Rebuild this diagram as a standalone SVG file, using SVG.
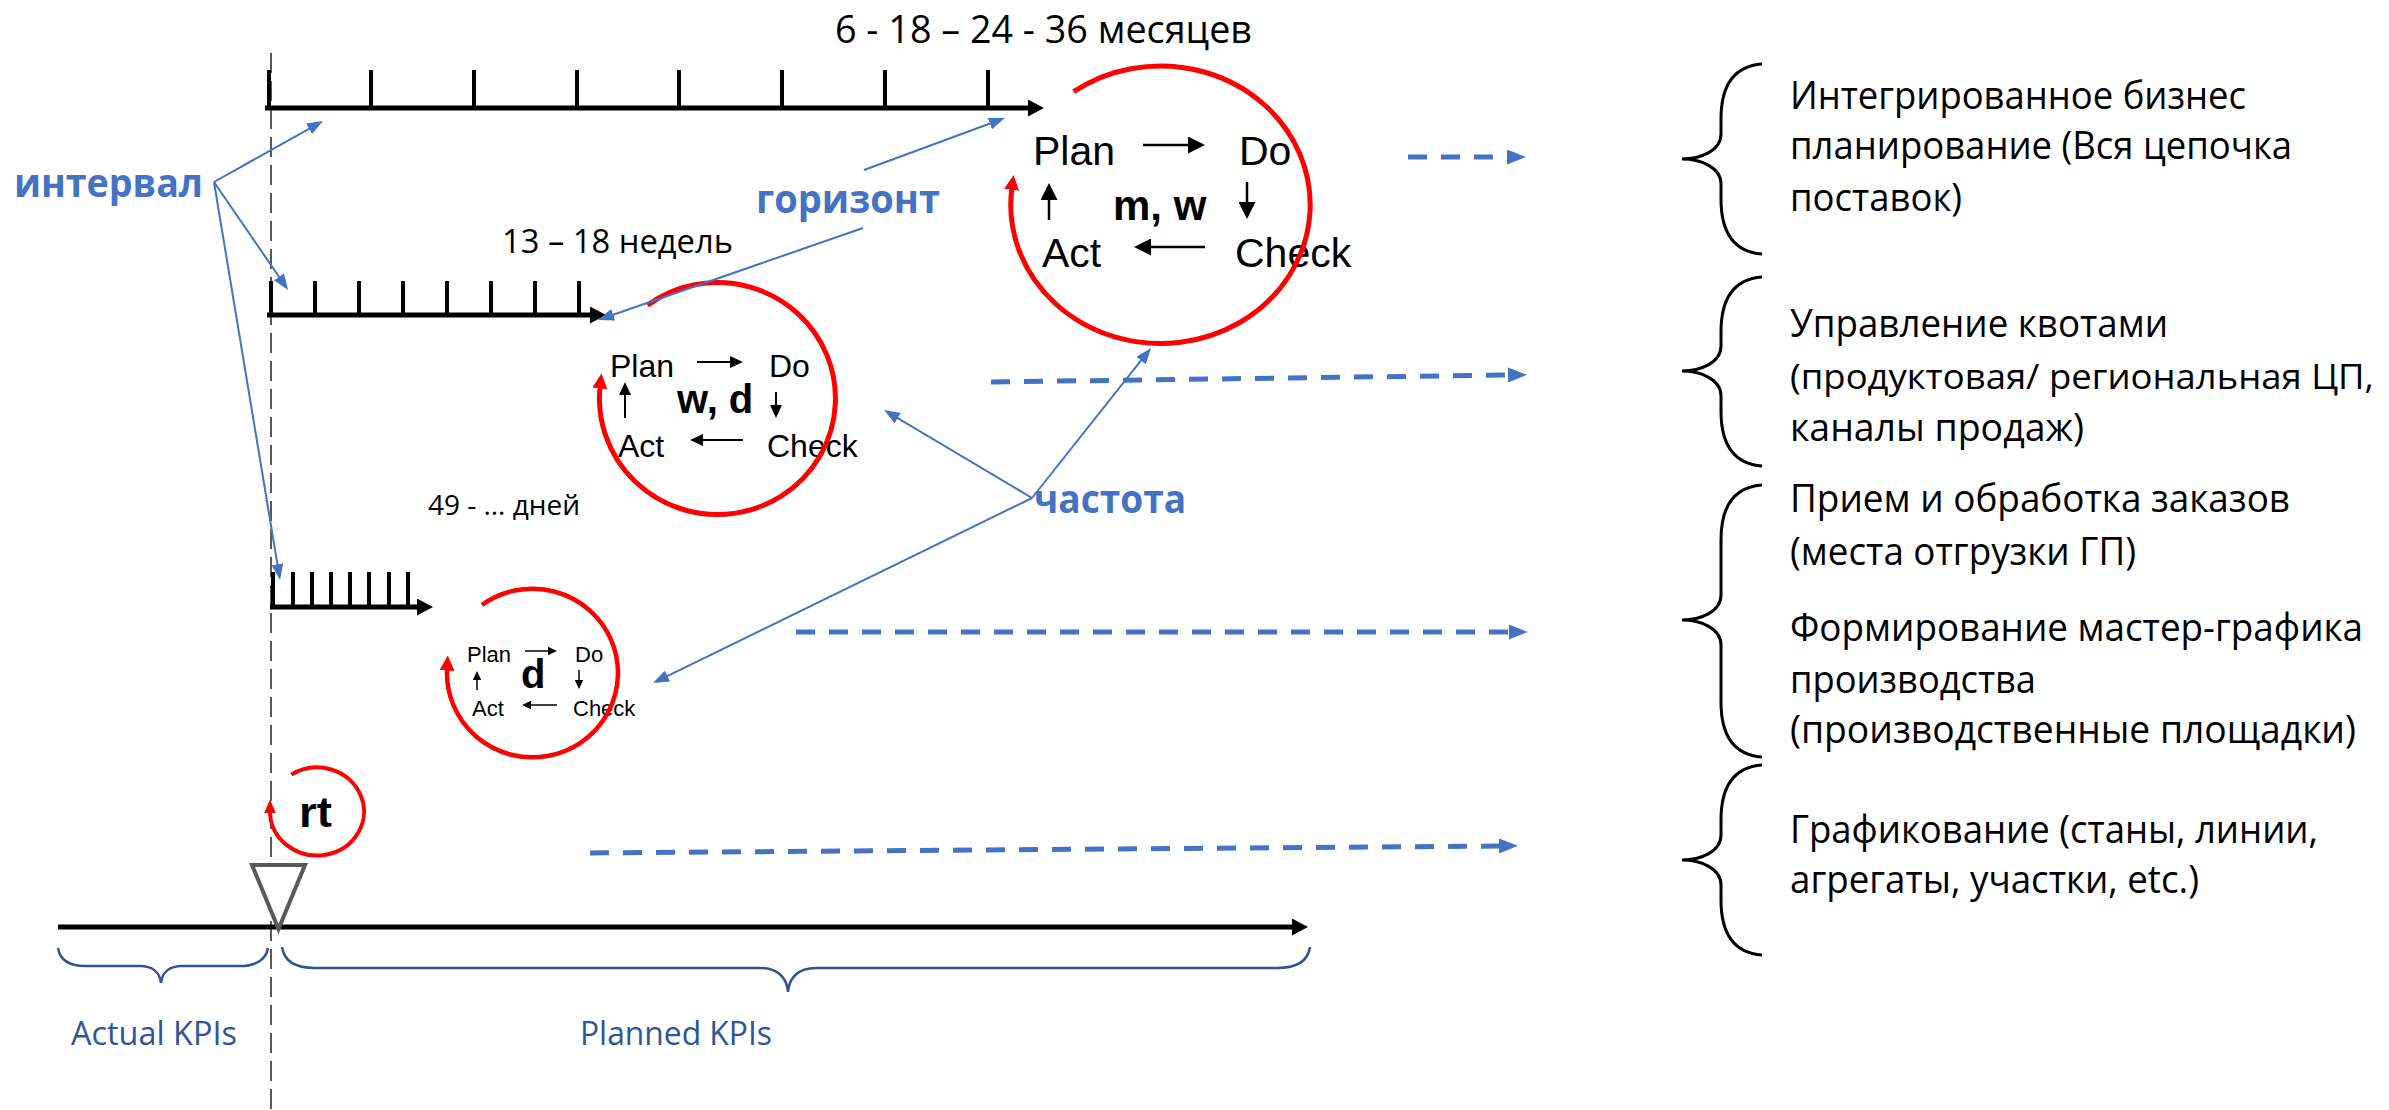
<svg xmlns="http://www.w3.org/2000/svg" width="2389" height="1110" viewBox="0 0 2389 1110">
  <defs>
    <style>
      .cal { font-family: "Open Sans", "Noto Sans", sans-serif; }
      .ari { font-family: "Liberation Sans", Arial, sans-serif; fill: #000; }
      .side { font-size: 38.5px; fill: #000; }
      .lbl { font-weight: bold; font-size: 40px; fill: #4472C4; }
      .kpi { font-size: 33px; fill: #2F5597; }
      .axis { stroke: #000; stroke-width: 5; fill: none; marker-end: url(#ah-axis); }
      .tick { stroke: #000; stroke-width: 4; }
      .cycle { fill: none; stroke: #FF0000; }
      .lead { stroke: #4472C4; stroke-width: 2; fill: none; marker-end: url(#ah-lead); }
      .flow { stroke: #4472C4; stroke-width: 5; stroke-dasharray: 19 14; fill: none; marker-end: url(#ah-flow); }
      .brace { fill: none; stroke: #000; stroke-width: 3; }
      .kbrace { fill: none; stroke: #2F5597; stroke-width: 2.5; }
      .pa-lg { stroke: #000; stroke-width: 2.5; marker-end: url(#pa-lg); }
      .pa-md { stroke: #000; stroke-width: 2; marker-end: url(#pa-md); }
      .pa-sm { stroke: #000; stroke-width: 1.5; marker-end: url(#pa-sm); }
    </style>
    <marker id="ah-axis" markerUnits="userSpaceOnUse" markerWidth="16" markerHeight="17" refX="4" refY="8.5" orient="auto">
      <path d="M0,0 L16,8.5 L0,17 z" fill="#000"/>
    </marker>
    <marker id="ah-lead" markerUnits="userSpaceOnUse" markerWidth="16" markerHeight="12" refX="3" refY="6" orient="auto">
      <path d="M0,0 L16,6 L0,12 z" fill="#4472C4"/>
    </marker>
    <marker id="ah-flow" markerUnits="userSpaceOnUse" markerWidth="19" markerHeight="15" refX="1" refY="7.5" orient="auto">
      <path d="M0,0 L19,7.5 L0,15 z" fill="#4472C4"/>
    </marker>
    <marker id="ah-cycle" markerUnits="userSpaceOnUse" markerWidth="15" markerHeight="15" refX="2" refY="7.5" orient="auto">
      <path d="M0,0 L15,7.5 L0,15 z" fill="#FF0000"/>
    </marker>
    <marker id="ah-cycle-sm" markerUnits="userSpaceOnUse" markerWidth="14" markerHeight="12" refX="2" refY="6" orient="auto">
      <path d="M0,0 L14,6 L0,12 z" fill="#FF0000"/>
    </marker>
    <marker id="pa-lg" markerUnits="userSpaceOnUse" markerWidth="17" markerHeight="17" refX="1" refY="8.5" orient="auto">
      <path d="M0,0 L17,8.5 L0,17 z" fill="#000"/>
    </marker>
    <marker id="pa-md" markerUnits="userSpaceOnUse" markerWidth="13" markerHeight="12" refX="1" refY="6" orient="auto">
      <path d="M0,0 L13,6 L0,12 z" fill="#000"/>
    </marker>
    <marker id="pa-sm" markerUnits="userSpaceOnUse" markerWidth="9" markerHeight="9" refX="1" refY="4.25" orient="auto">
      <path d="M0,0 L9,4.25 L0,8.5 z" fill="#000"/>
    </marker>
  </defs>

  <rect width="2389" height="1110" fill="#fff"/>

  <!-- "now" reference line -->
  <g id="now-line">
    <line x1="271" y1="53" x2="271" y2="1110" stroke="#595959" stroke-width="2" stroke-dasharray="20 8"/>
  </g>

  <!-- months horizon -->
  <g id="timeline-months">
    <line class="axis" x1="265" y1="108" x2="1032" y2="108"/>
    <g class="tick">
      <line x1="269" y1="70" x2="269" y2="108"/>
      <line x1="371" y1="70" x2="371" y2="108"/>
      <line x1="474" y1="70" x2="474" y2="108"/>
      <line x1="577" y1="70" x2="577" y2="108"/>
      <line x1="679" y1="70" x2="679" y2="108"/>
      <line x1="782" y1="70" x2="782" y2="108"/>
      <line x1="885" y1="70" x2="885" y2="108"/>
      <line x1="988" y1="70" x2="988" y2="108"/>
    </g>
    <text class="cal" x="835" y="43" font-size="38.5" textLength="417" lengthAdjust="spacingAndGlyphs">6 - 18 – 24 - 36 месяцев</text>
  </g>

  <!-- weeks horizon -->
  <g id="timeline-weeks">
    <line class="axis" x1="267" y1="315" x2="594" y2="315"/>
    <g class="tick">
      <line x1="271" y1="281" x2="271" y2="315"/>
      <line x1="315" y1="281" x2="315" y2="315"/>
      <line x1="359" y1="281" x2="359" y2="315"/>
      <line x1="403" y1="281" x2="403" y2="315"/>
      <line x1="447" y1="281" x2="447" y2="315"/>
      <line x1="491" y1="281" x2="491" y2="315"/>
      <line x1="535" y1="281" x2="535" y2="315"/>
      <line x1="579" y1="281" x2="579" y2="315"/>
    </g>
    <text class="cal" x="502" y="253" font-size="33.5" textLength="231" lengthAdjust="spacingAndGlyphs">13 – 18 недель</text>
  </g>

  <!-- days horizon -->
  <g id="timeline-days">
    <line class="axis" x1="270" y1="607" x2="421" y2="607"/>
    <g class="tick">
      <line x1="273" y1="572" x2="273" y2="607"/>
      <line x1="293" y1="572" x2="293" y2="607"/>
      <line x1="312" y1="572" x2="312" y2="607"/>
      <line x1="331" y1="572" x2="331" y2="607"/>
      <line x1="350" y1="572" x2="350" y2="607"/>
      <line x1="369" y1="572" x2="369" y2="607"/>
      <line x1="389" y1="572" x2="389" y2="607"/>
      <line x1="408" y1="572" x2="408" y2="607"/>
    </g>
    <text class="cal" x="428" y="515" font-size="28" textLength="152" lengthAdjust="spacingAndGlyphs">49 - … дней</text>
  </g>

  <!-- actual / planned axis -->
  <g id="timeline-actual-planned">
    <line class="axis" x1="58" y1="927" x2="1296" y2="927"/>
    <path d="M252,865 L305,865 L278.5,929 z" fill="#fff" stroke="#595959" stroke-width="4" stroke-linejoin="miter"/>
    <path class="kbrace" d="M58,948 C60,960 70,966 85,966 L140,966 C152,966 160,972 161,983 C162,972 170,966 182,966 L240,966 C255,966 266,960 268,948"/>
    <path class="kbrace" d="M282,947 C284,961 296,968 315,968 L760,968 C778,968 787,978 788,992 C789,978 798,968 816,968 L1277,968 C1296,968 1308,961 1310,947"/>
    <text class="cal kpi" x="71" y="1045" textLength="166" lengthAdjust="spacingAndGlyphs">Actual KPIs</text>
    <text class="cal kpi" x="580" y="1045" textLength="192" lengthAdjust="spacingAndGlyphs">Planned KPIs</text>
  </g>

  <!-- PDCA cycle, months / weeks -->
  <g id="pdca-mw">
    <g class="ari" font-size="41">
      <text x="1033" y="165">Plan</text>
      <text x="1239" y="165">Do</text>
      <text x="1042" y="267">Act</text>
      <text x="1235" y="267">Check</text>
      <text x="1113" y="220" font-size="42" font-weight="bold">m, w</text>
    </g>
    <line class="pa-lg" x1="1143" y1="145" x2="1189" y2="145"/>
    <line class="pa-lg" x1="1247" y1="182" x2="1247" y2="203"/>
    <line class="pa-lg" x1="1205" y1="247" x2="1150" y2="247"/>
    <line class="pa-lg" x1="1049" y1="220" x2="1049" y2="199"/>
    <path class="cycle" stroke-width="5" marker-end="url(#ah-cycle)" d="M1073.6,91.7 A149.7,138.8 0 1 1 1011.9,187.8"/>
  </g>

  <!-- PDCA cycle, weeks / days -->
  <g id="pdca-wd">
    <g class="ari" font-size="32">
      <text x="610" y="377">Plan</text>
      <text x="769" y="377">Do</text>
      <text x="618" y="457">Act</text>
      <text x="767" y="457">Check</text>
      <text x="677" y="413" font-size="40" font-weight="bold">w, d</text>
    </g>
    <line class="pa-md" x1="697" y1="362" x2="731" y2="362"/>
    <line class="pa-md" x1="776" y1="392" x2="776" y2="406"/>
    <line class="pa-md" x1="743" y1="440" x2="702" y2="440"/>
    <line class="pa-md" x1="625" y1="418" x2="625" y2="394"/>
    <path class="cycle" stroke-width="5" marker-end="url(#ah-cycle)" d="M647.5,305.1 A118,116 0 1 1 600.1,386.4"/>
  </g>

  <!-- PDCA cycle, days -->
  <g id="pdca-d">
    <g class="ari" font-size="22">
      <text x="467" y="662">Plan</text>
      <text x="575" y="662">Do</text>
      <text x="472" y="716">Act</text>
      <text x="573" y="716">Check</text>
      <text x="521" y="688" font-size="40" font-weight="bold">d</text>
    </g>
    <line class="pa-sm" x1="525" y1="651" x2="549" y2="651"/>
    <line class="pa-sm" x1="579" y1="670" x2="579" y2="681"/>
    <line class="pa-sm" x1="557" y1="705" x2="530" y2="705"/>
    <line class="pa-sm" x1="477" y1="690" x2="477" y2="679"/>
    <path class="cycle" stroke-width="4.5" marker-end="url(#ah-cycle)" d="M482,605 A85.5,84.3 0 1 1 447.1,668.6"/>
  </g>

  <!-- real-time loop -->
  <g id="pdca-rt">
    <path class="cycle" stroke-width="4" marker-end="url(#ah-cycle-sm)" d="M291.4,774.6 A47,44 0 1 1 270,811.5"/>
    <text class="ari" x="299" y="827" font-size="42" font-weight="bold" textLength="33" lengthAdjust="spacingAndGlyphs">rt</text>
  </g>

  <!-- callout labels -->
  <g id="label-interval">
    <text class="cal lbl" x="14" y="197" textLength="189" lengthAdjust="spacingAndGlyphs">интервал</text>
  </g>
  <g id="label-horizon">
    <text class="cal lbl" x="756" y="213" textLength="184" lengthAdjust="spacingAndGlyphs">горизонт</text>
  </g>
  <g id="label-frequency">
    <text class="cal lbl" x="1034" y="513" textLength="152" lengthAdjust="spacingAndGlyphs">частота</text>
  </g>

  <!-- planning levels -->
  <g id="level-ibp">
    <path class="brace" d="M1762,64 C1735,66 1721,84 1721,119 L1721,134 C1721,151 1700,159 1682,159 C1700,159 1721,167 1721,184 L1721,199 C1721,234 1735,252 1762,254"/>
    <g class="cal side">
      <text x="1790" y="109" textLength="456" lengthAdjust="spacingAndGlyphs">Интегрированное бизнес</text>
      <text x="1790" y="159" textLength="502" lengthAdjust="spacingAndGlyphs">планирование (Вся цепочка</text>
      <text x="1790" y="211" textLength="172" lengthAdjust="spacingAndGlyphs">поставок)</text>
    </g>
  </g>
  <g id="level-quota">
    <path class="brace" d="M1762,277 C1735,279 1721,297 1721,332 L1721,346 C1721,363 1700,371 1682,371 C1700,371 1721,379 1721,396 L1721,411 C1721,446 1735,464 1762,466"/>
    <g class="cal side">
      <text x="1790" y="337" textLength="378" lengthAdjust="spacingAndGlyphs">Управление квотами</text>
      <text x="1790" y="389" font-size="35" textLength="584" lengthAdjust="spacingAndGlyphs">(продуктовая/ региональная ЦП,</text>
      <text x="1790" y="441" textLength="294" lengthAdjust="spacingAndGlyphs">каналы продаж)</text>
    </g>
  </g>
  <g id="level-orders-mps">
    <path class="brace" d="M1762,485 C1735,487 1721,505 1721,540 L1721,595 C1721,612 1700,620 1682,620 C1700,620 1721,628 1721,645 L1721,702 C1721,737 1735,755 1762,757"/>
    <g class="cal side">
      <text x="1790" y="512" textLength="500" lengthAdjust="spacingAndGlyphs">Прием и обработка заказов</text>
      <text x="1790" y="565" textLength="346" lengthAdjust="spacingAndGlyphs">(места отгрузки ГП)</text>
      <text x="1790" y="641" textLength="573" lengthAdjust="spacingAndGlyphs">Формирование мастер-графика</text>
      <text x="1790" y="693" textLength="246" lengthAdjust="spacingAndGlyphs">производства</text>
      <text x="1790" y="743" textLength="566" lengthAdjust="spacingAndGlyphs">(производственные площадки)</text>
    </g>
  </g>
  <g id="level-scheduling">
    <path class="brace" d="M1762,765 C1735,767 1721,785 1721,820 L1721,835 C1721,852 1700,860 1682,860 C1700,860 1721,868 1721,885 L1721,900 C1721,935 1735,953 1762,955"/>
    <g class="cal side">
      <text x="1790" y="843" textLength="528" lengthAdjust="spacingAndGlyphs">Графикование (станы, линии,</text>
      <text x="1790" y="893" textLength="409" lengthAdjust="spacingAndGlyphs">агрегаты, участки, etc.)</text>
    </g>
  </g>

  <!-- connectors -->
  <g id="connectors">
    <line class="lead" x1="214" y1="182" x2="311.7" y2="127.3"/>
    <line class="lead" x1="214" y1="182" x2="280.7" y2="279.3"/>
    <line class="lead" x1="214" y1="182" x2="277.9" y2="567.2"/>
    <line class="lead" x1="864" y1="170" x2="992.8" y2="122.5"/>
    <line class="lead" x1="863" y1="228" x2="610.3" y2="315.7"/>
    <line class="lead" x1="1032" y1="498" x2="1142.9" y2="358.2"/>
    <line class="lead" x1="1032" y1="498" x2="895.2" y2="416.6"/>
    <line class="lead" x1="1032" y1="498" x2="664.7" y2="677.3"/>
    <line class="flow" x1="1408" y1="157" x2="1508" y2="157"/>
    <line class="flow" x1="991" y1="382" x2="1509" y2="375"/>
    <line class="flow" x1="796" y1="632" x2="1510" y2="632"/>
    <line class="flow" x1="590" y1="853" x2="1500" y2="846"/>
  </g>
</svg>
